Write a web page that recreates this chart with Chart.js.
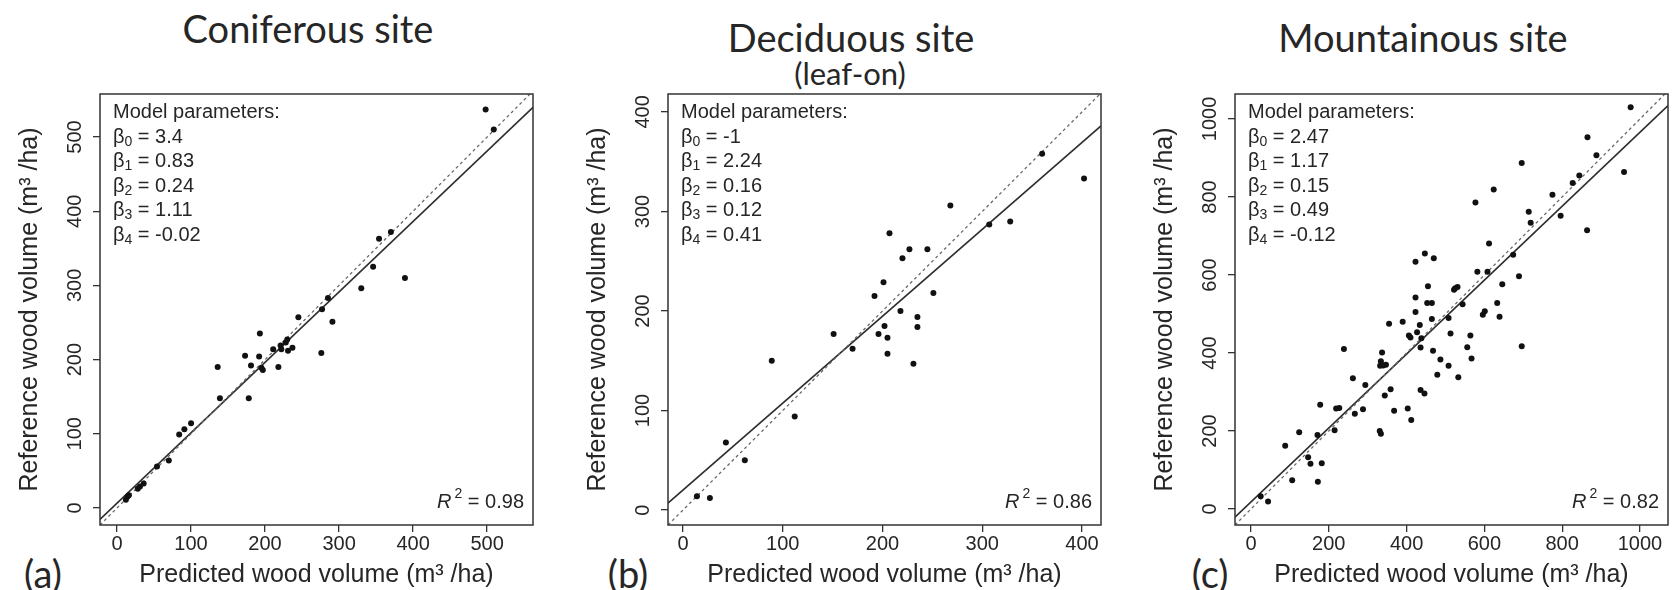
<!DOCTYPE html>
<html>
<head>
<meta charset="utf-8">
<script src="https://cdn.jsdelivr.net/npm/chart.js@4.4.0/dist/chart.umd.min.js"></script>
<style>
  body { margin: 0; width: 1673px; height: 590px; background: #fff; overflow: hidden; position: relative; }
  .ttl { position: absolute; transform: translate(-50%, -50%); font-family: Lato, "Open Sans", sans-serif; font-size: 38px; color: #262626; line-height: 1; white-space: nowrap; }
  .sub { font-size: 31px; }
  .panel { position: absolute; top: 0; width: 538px; height: 590px; }
</style>
</head>
<body>
<div class="ttl" style="left:308px; top:28px">Coniferous site</div>
<div class="ttl" style="left:851px; top:37px">Deciduous site</div>
<div class="ttl sub" style="left:850px; top:73px">(leaf-on)</div>
<div class="ttl" style="left:1423px; top:37px">Mountainous site</div>
<div class="ttl" style="left:43px; top:573px">(a)</div>
<div class="ttl" style="left:628px; top:573px">(b)</div>
<div class="ttl" style="left:1210px; top:573px">(c)</div>

<div class="panel" style="left:0px"><canvas id="chartA"></canvas></div>
<div class="panel" style="left:568px"><canvas id="chartB"></canvas></div>
<div class="panel" style="left:1135px"><canvas id="chartC"></canvas></div>

<script>
// Coniferous site (a)
const coniferousX = [498, 509, 354, 370, 346, 389, 330, 285, 277, 291, 245, 276, 193, 173, 192, 181, 195, 197, 218, 211,
  222, 230, 228, 231, 237, 221, 136, 139, 178, 100, 91, 84, 70, 54, 36, 31, 28, 14, 12, 16];
const coniferousY = [537, 510, 363, 372, 325, 310, 296, 283, 268, 251, 257, 209, 235, 205, 204, 192, 189, 186, 190, 214,
  214, 227, 223, 212, 216, 219, 190, 148, 148, 114, 106, 99, 64, 56, 33, 29, 26, 15, 11, 17];
const coniferousFitX = [-23, 562];
const coniferousFitY = [-15.5, 540];
const coniferousTicks = [0, 100, 200, 300, 400, 500];
const coniferousParams = ["3.4", "0.83", "0.24", "1.11", "-0.02"];
const coniferousR2 = "0.98";

// Deciduous site, leaf-on (b)
const deciduousX = [360, 402, 268, 307, 328, 207, 227, 245, 220, 201, 192, 251, 218, 235, 235, 202, 196, 205, 205, 231,
  151, 170, 89, 112, 43, 62, 14, 27];
const deciduousY = [358, 333, 306, 287, 290, 278, 262, 262, 253, 229, 215, 218, 200, 194, 184, 185, 177, 173, 157, 147,
  177, 162, 150, 94, 68, 50, 14, 12];
const deciduousFitX = [-15, 419];
const deciduousFitY = [7, 386];
const deciduousTicks = [0, 100, 200, 300, 400];
const deciduousParams = ["-1", "2.24", "0.16", "0.12", "0.41"];
const deciduousR2 = "0.86";

// Mountainous site (c)
const mountainousX = [976, 865, 888, 959, 696, 827, 844, 775, 796, 714, 719, 864, 624, 577, 612, 674, 689, 582, 608, 646,
  423, 447, 470, 455, 522, 531, 525, 544, 423, 453, 465, 423, 633, 601, 596, 639, 508, 465, 434, 427,
  390, 355, 406, 410, 438, 513, 564, 436, 468, 556, 567, 487, 508, 533, 479, 696, 239, 337, 334, 340,
  332, 347, 262, 294, 359, 344, 436, 446, 227, 219, 267, 288, 368, 403, 412, 215, 331, 334, 178, 171,
  124, 88, 147, 153, 182, 106, 172, 25, 44];
const mountainousY = [1030, 953, 907, 864, 887, 836, 855, 806, 752, 762, 734, 715, 819, 786, 681, 652, 597, 608, 608, 576,
  634, 655, 643, 571, 562, 569, 566, 525, 542, 528, 528, 505, 528, 507, 498, 493, 490, 487, 472, 453,
  480, 475, 445, 440, 438, 450, 445, 414, 406, 415, 386, 383, 367, 338, 344, 417, 410, 401, 379, 368,
  367, 370, 335, 318, 307, 291, 305, 296, 259, 258, 244, 256, 252, 258, 228, 202, 200, 193, 267, 190,
  197, 162, 133, 116, 117, 74, 70, 33, 19];
const mountainousFitX = [-41, 1072];
const mountainousFitY = [-21, 1034];
const mountainousTicks = [0, 200, 400, 600, 800, 1000];
const mountainousParams = ["2.47", "1.17", "0.15", "0.49", "-0.12"];
const mountainousR2 = "0.82";

const ink = "#262626";
const tickFont = '"Liberation Sans", Arial, sans-serif';
Chart.defaults.font.family = tickFont;
Chart.defaults.color = ink;

const panelDecor = {
  id: "panelDecor",
  afterDraw(chart, args, opts) {
    const { ctx, chartArea: a, scales: { y } } = chart;
    ctx.save();
    ctx.strokeStyle = "#333";
    ctx.lineWidth = 1.5;
    ctx.strokeRect(a.left, a.top, a.right - a.left, a.bottom - a.top);

    // y tick labels, turned like the axis
    ctx.fillStyle = ink;
    ctx.font = "20px " + tickFont;
    ctx.textAlign = "center";
    ctx.textBaseline = "middle";
    y.ticks.forEach((t) => {
      ctx.save();
      ctx.translate(a.left - 25, y.getPixelForValue(t.value));
      ctx.rotate(-Math.PI / 2);
      ctx.fillText(String(t.value), 0, 0);
      ctx.restore();
    });

    // model parameters
    ctx.textAlign = "left";
    const x0 = a.left + 13;
    let ty = a.top + 18.5;
    ctx.fillText("Model parameters:", x0, ty);
    opts.params.forEach((p, i) => {
      ty += 24.5;
      ctx.font = "20px " + tickFont;
      ctx.fillText("\u03b2", x0, ty);
      let x = x0 + ctx.measureText("\u03b2").width;
      ctx.font = "14px " + tickFont;
      ctx.fillText(String(i), x, ty + 5);
      x += ctx.measureText(String(i)).width;
      ctx.font = "20px " + tickFont;
      ctx.fillText(" = " + p, x, ty);
    });

    // R squared
    const ry = a.bottom - 23;
    ctx.textAlign = "right";
    ctx.font = "20px " + tickFont;
    const tail = " = " + opts.r2;
    const xr = a.right - 9;
    ctx.fillText(tail, xr, ry);
    let w = ctx.measureText(tail).width;
    ctx.font = "14px " + tickFont;
    ctx.fillText("2", xr - w, ry - 8);
    w += ctx.measureText("2").width + 3;
    ctx.font = "italic 20px " + tickFont;
    ctx.fillText("R", xr - w, ry);
    ctx.restore();
  },
};

function makePanel(id, xs, ys, fitX, fitY, ticks, xRange, yRange, params, r2) {
  const points = xs.map((x, i) => ({ x, y: ys[i] }));
  const lo = Math.min(xRange[0], yRange[0]);
  const hi = Math.max(xRange[1], yRange[1]);
  const axisTicks = (s) => { s.ticks = ticks.map((v) => ({ value: v })); };
  const grid = { display: true, drawOnChartArea: false, drawTicks: true, tickLength: 7, color: "#333", tickColor: "#333", lineWidth: 1.3 };
  return new Chart(document.getElementById(id), {
    type: "scatter",
    data: {
      datasets: [
        { data: points, pointRadius: 3, pointBackgroundColor: "#111", pointBorderWidth: 0 },
        { data: [{ x: lo, y: lo }, { x: hi, y: hi }], showLine: true, borderColor: "#6a6a6a", borderDash: [3, 3], borderWidth: 1.3, pointRadius: 0, clip: 0 },
        { data: [{ x: fitX[0], y: fitY[0] }, { x: fitX[1], y: fitY[1] }], showLine: true, borderColor: "#2e2e2e", borderWidth: 1.6, pointRadius: 0, clip: 0 },
      ],
    },
    options: {
      animation: false,
      responsive: true,
      maintainAspectRatio: false,
      layout: { padding: { top: 94, right: 5, left: 0, bottom: 0 } },
      plugins: {
        legend: { display: false },
        tooltip: { enabled: false },
        panelDecor: { params, r2 },
      },
      scales: {
        x: {
          type: "linear", min: xRange[0], max: xRange[1],
          afterBuildTicks: axisTicks,
          afterFit: (s) => { s.height = 65; },
          grid, border: { display: false },
          ticks: { font: { size: 20 }, padding: 0, maxRotation: 0, autoSkip: false, callback: (v) => String(v) },
          title: { display: true, text: "Predicted wood volume (m\u00b3 /ha)", font: { size: 25 }, padding: 0 },
        },
        y: {
          type: "linear", min: yRange[0], max: yRange[1],
          afterBuildTicks: axisTicks,
          afterFit: (s) => { s.width = 100; },
          grid, border: { display: false },
          ticks: { display: false },
          title: { display: true, text: "Reference wood volume (m\u00b3 /ha)", font: { size: 25 }, padding: { top: 15, bottom: 0 } },
        },
      },
    },
    plugins: [panelDecor],
  });
}

makePanel("chartA", coniferousX, coniferousY, coniferousFitX, coniferousFitY, coniferousTicks, [-23, 562], [-23, 558], coniferousParams, coniferousR2);
makePanel("chartB", deciduousX, deciduousY, deciduousFitX, deciduousFitY, deciduousTicks, [-15, 419], [-15, 418], deciduousParams, deciduousR2);
makePanel("chartC", mountainousX, mountainousY, mountainousFitX, mountainousFitY, mountainousTicks, [-41, 1072], [-41, 1064], mountainousParams, mountainousR2);
</script>
</body>
</html>
